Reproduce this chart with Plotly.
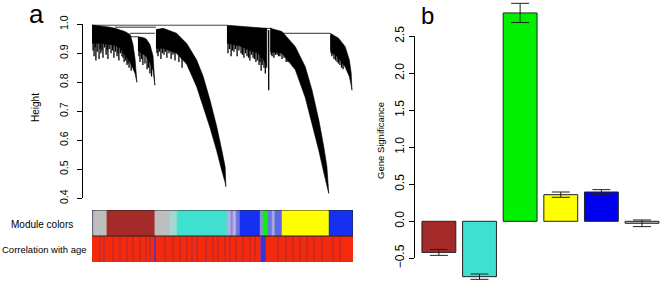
import numpy as np
import plotly.graph_objects as go

# ---------------- Panel a: dendrogram (leaf order 0-1000, height) ----------------
b1_x = [0, 31, 69, 88, 107, 126, 146, 157, 165, 172]
b1_top = [0.998, 0.995, 0.990, 0.986, 0.981, 0.975, 0.965, 0.93, 0.88, 0.80]
b1_low = [0.935, 0.935, 0.930, 0.928, 0.918, 0.895, 0.870, 0.845, 0.83, 0.80]
b1_spike_x = [4, 8, 12, 15, 20, 27, 31, 34, 38, 42, 48, 54, 58, 61, 66, 73, 79, 84, 90, 96,
              100, 103, 109, 115, 119, 123, 129, 134, 138, 142, 150]
b1_spike_low = [0.91, 0.89, 0.92, 0.875, 0.905, 0.88, 0.915, 0.90, 0.91, 0.885, 0.92, 0.895,
                0.91, 0.88, 0.915, 0.90, 0.91, 0.885, 0.905, 0.89, 0.90, 0.875, 0.90, 0.89,
                0.885, 0.87, 0.875, 0.86, 0.865, 0.85, 0.84]

b3_x = [176, 192, 207, 222, 234, 241]
b3_top = [0.957, 0.955, 0.95, 0.93, 0.89, 0.79]
b3_low = [0.91, 0.90, 0.89, 0.87, 0.84, 0.79]
b3_spike_x = [180, 184, 190, 195, 203, 211, 216, 222, 228]
b3_spike_low = [0.89, 0.87, 0.88, 0.86, 0.865, 0.845, 0.85, 0.83, 0.82]

b4_x = [245, 273, 324, 363, 401, 426, 452, 478, 497, 510, 513]
b4_top = [0.982, 0.986, 0.969, 0.934, 0.877, 0.82, 0.739, 0.647, 0.567, 0.509, 0.44]
b4_low = [0.917, 0.917, 0.90, 0.862, 0.785, 0.72, 0.644, 0.563, 0.496, 0.455, 0.44]
b4_spike_x = [249, 253, 258, 264, 270, 276, 281, 287, 295, 303, 310, 318, 333, 345]
b4_spike_low = [0.90, 0.89, 0.905, 0.88, 0.90, 0.895, 0.905, 0.885, 0.90, 0.88, 0.895, 0.875, 0.87, 0.85]

b5_x = [517, 567, 605, 636, 655, 667, 670]
b5_top = [0.997, 0.994, 0.991, 0.989, 0.987, 0.986, 0.985]
b5_low = [0.935, 0.925, 0.91, 0.90, 0.88, 0.86, 0.85]
b5_spike_x = [521, 527, 533, 538, 544, 550, 556, 563, 571, 576, 582, 588, 594, 600, 605, 611,
              617, 622, 628, 634, 640, 644, 648, 652, 659, 664, 677]
b5_spike_low = [0.90, 0.915, 0.89, 0.91, 0.905, 0.915, 0.89, 0.91, 0.90, 0.895, 0.885, 0.90,
                0.89, 0.885, 0.875, 0.895, 0.885, 0.88, 0.87, 0.875, 0.86, 0.87, 0.84, 0.86,
                0.85, 0.83, 0.773]

b7_x = [683, 728, 779, 817, 843, 869, 888, 900, 907]
b7_top = [0.986, 0.975, 0.923, 0.854, 0.773, 0.67, 0.578, 0.509, 0.417]
b7_low = [0.905, 0.90, 0.843, 0.748, 0.659, 0.565, 0.489, 0.44, 0.417]
b7_spike_x = [687, 690, 697, 703, 709, 715, 720, 728, 736, 744, 751]
b7_spike_low = [0.895, 0.89, 0.885, 0.895, 0.895, 0.89, 0.89, 0.88, 0.885, 0.87, 0.87]

b8_x = [913, 945, 970, 986, 993, 996]
b8_top = [0.969, 0.952, 0.923, 0.877, 0.832, 0.773]
b8_low = [0.911, 0.884, 0.853, 0.82, 0.79, 0.773]
b8_spike_x = [916, 919, 923, 927, 933, 939, 944, 950, 956, 962]
b8_spike_low = [0.90, 0.89, 0.895, 0.88, 0.875, 0.87, 0.865, 0.86, 0.85, 0.845]

merge_h = [0.997, 0.99, 0.969, 0.957, 0.969, 0.986]
merge_x0 = [0, 88, 146, 146, 728, 655]
merge_x1 = [517, 245, 241, 176, 913, 690]

# module colour row
mod_start = [0, 11, 57, 241, 299, 326, 517, 533, 540, 552, 567, 644, 655, 674, 690, 701, 728, 908]
mod_color = ["#AEB0C8", "#BEBEBE", "#A52A2A", "#BEBEBE", "#A0D8D0", "#40E0D0", "#AFAFDC",
             "#7C80E4", "#B4B4DC", "#6E70E8", "#1530F0", "#8C8CE0", "#10EE10", "#6E78E4",
             "#A4A4E0", "#5C68E8", "#FFFF00", "#1530F0"]
n_leaves = 1000

# correlation-with-age row
corr_base = "#F52A0C"
corr_x = [31, 46, 80, 107, 134, 157, 184, 207, 222, 241, 280, 310, 337, 364, 383, 402, 437, 464,
          483, 510, 529, 552, 579, 605, 624, 648, 657, 713, 743, 770, 797, 824, 850, 881, 923, 950]
corr_w = [5, 4, 5, 4, 6, 4, 5, 4, 5, 5, 4, 6, 5, 4, 5, 6, 4, 5, 4, 5, 6, 5, 4, 6, 5, 6, 17,
          4, 5, 6, 4, 5, 4, 5, 6, 5]
corr_color = ["#CC2A22"] * len(corr_x)
corr_color[9] = "#7030A0"
corr_color[25] = "#A0309A"
corr_color[26] = "#3A34D0"

# ---------------- Panel b: gene significance by module ----------------
modules = ["brown", "turquoise", "green", "yellow", "blue", "grey"]
gs_mean = [-0.42, -0.748, 2.815, 0.36, 0.396, -0.027]
gs_err = [0.04, 0.036, 0.13, 0.036, 0.032, 0.045]
bar_colors = ["#A52A2A", "#40E0D0", "#00F000", "#FFFF00", "#0000F0", "#BEBEBE"]

W, H = 662, 282
FONT = "Liberation Sans, Arial, sans-serif"

fig = go.Figure()

branches = [
    (b1_x, b1_top, b1_low, b1_spike_x, b1_spike_low),
    (b3_x, b3_top, b3_low, b3_spike_x, b3_spike_low),
    (b4_x, b4_top, b4_low, b4_spike_x, b4_spike_low),
    (b5_x, b5_top, b5_low, b5_spike_x, b5_spike_low),
    (b7_x, b7_top, b7_low, b7_spike_x, b7_spike_low),
    (b8_x, b8_top, b8_low, b8_spike_x, b8_spike_low),
]

# merge lines
mx, my = [], []
for h, a, b in zip(merge_h, merge_x0, merge_x1):
    mx += [a, b, None]
    my += [h, h, None]
fig.add_trace(go.Scatter(x=mx, y=my, mode="lines", line=dict(color="#333", width=1),
                         xaxis="x", yaxis="y", showlegend=False, hoverinfo="skip"))

for bx, bt, bl, sx, sl in branches:
    px = list(bx) + list(bx)[::-1]
    py = list(bt) + list(bl)[::-1]
    fig.add_trace(go.Scatter(x=px, y=py, mode="lines", fill="toself", fillcolor="black",
                             line=dict(color="black", width=0.6), xaxis="x", yaxis="y",
                             showlegend=False, hoverinfo="skip"))
    sxs, sys = [], []
    for xv, lv in zip(sx, sl):
        start = float(np.interp(xv, bx, bt)) - 0.005
        sxs += [xv, xv, None]
        sys += [start, lv, None]
    fig.add_trace(go.Scatter(x=sxs, y=sys, mode="lines", line=dict(color="#000", width=1.3),
                             xaxis="x", yaxis="y", showlegend=False, hoverinfo="skip"))

# module colour row
mod_end = mod_start[1:] + [n_leaves]
mod_w = [e - s for s, e in zip(mod_start, mod_end)]
fig.add_trace(go.Bar(orientation="h", y=[1.5] * len(mod_start), x=mod_w, base=mod_start,
                     width=1, marker=dict(color=mod_color, line=dict(color=mod_color, width=0.5)),
                     xaxis="x2", yaxis="y2", showlegend=False, hoverinfo="skip"))
# correlation row
fig.add_trace(go.Bar(orientation="h", y=[0.5], x=[n_leaves], base=[0], width=1,
                     marker=dict(color=corr_base, line=dict(width=0)),
                     xaxis="x2", yaxis="y2", showlegend=False, hoverinfo="skip"))
fig.add_trace(go.Bar(orientation="h", y=[0.5] * len(corr_x), x=corr_w,
                     base=[c - w / 2 for c, w in zip(corr_x, corr_w)], width=1,
                     marker=dict(color=corr_color, line=dict(width=0)),
                     xaxis="x2", yaxis="y2", showlegend=False, hoverinfo="skip"))

# bar chart
fig.add_trace(go.Bar(x=modules, y=gs_mean, marker=dict(color=bar_colors, line=dict(color="#222", width=1)),
                     error_y=dict(type="data", array=gs_err, visible=True, color="#222",
                                  thickness=1, width=9),
                     xaxis="x3", yaxis="y3", showlegend=False, hoverinfo="skip"))
fig.add_trace(go.Scatter(x=[None], y=[None], xaxis="x4", yaxis="y4", showlegend=False,
                         hoverinfo="skip"))

xa_dom = [92 / W, 353 / W]
xb_dom = [415.2 / W, 1.0]
fig.update_layout(
    width=W, height=H, margin=dict(l=0, r=0, t=0, b=0, pad=0), autosize=False,
    paper_bgcolor="white", plot_bgcolor="rgba(0,0,0,0)",
    font=dict(family=FONT, color="black"),
    barmode="overlay", bargap=1 - 1 / 1.2,
    xaxis=dict(domain=xa_dom, range=[0, n_leaves], visible=False, automargin=False),
    yaxis=dict(domain=[1 - 198.3 / H, 1 - 24.3 / H], range=[0.4, 1.0], anchor="free",
               position=82 / W, showline=True, linecolor="black", linewidth=1, automargin=False,
               ticks="outside", ticklen=5, tickcolor="black", tickvals=[0.4, 0.5, 0.6, 0.7, 0.8, 0.9, 1.0],
               tickformat=".1f", tickangle=-90, tickfont=dict(size=10.5), ticklabelstandoff=5,
               showgrid=False, zeroline=False),
    xaxis2=dict(domain=xa_dom, range=[0, n_leaves], visible=False, anchor="y2", automargin=False),
    yaxis2=dict(domain=[1 - 262 / H, 1 - 210 / H], range=[0, 2], visible=False, anchor="x2", automargin=False),
    xaxis3=dict(domain=xb_dom, range=[-0.583, 5.492], visible=False, anchor="y3", automargin=False),
    yaxis3=dict(domain=[0, 1], range=[-0.82, 2.99], visible=False, anchor="x3", automargin=False),
    xaxis4=dict(domain=xb_dom, range=[0, 1], visible=False, anchor="y4", automargin=False),
    yaxis4=dict(domain=[1 - 258.3 / H, 1 - 36.3 / H], range=[-0.5, 2.5], anchor="x4", automargin=False,
                showline=True, linecolor="black", linewidth=1, ticks="outside", ticklen=5,
                tickcolor="black", tickvals=[-0.5, 0, 0.5, 1.0, 1.5, 2.0, 2.5], tickformat=".1f",
                tickangle=-90, tickfont=dict(size=12), showgrid=False, zeroline=False),
    shapes=[dict(type="rect", xref="x2", yref="y2", x0=0, x1=n_leaves, y0=1, y1=2,
                 line=dict(color="#222", width=1))],
)

ann = [
    dict(text="a", x=36 / W, y=1 - 14 / H, size=26),
    dict(text="b", x=428 / W, y=1 - 15 / H, size=24),
    dict(text="Module colors", x=42 / W, y=1 - 224 / H, size=10),
    dict(text="Correlation with age", x=44 / W, y=1 - 250 / H, size=9.5),
]
for a in ann:
    fig.add_annotation(text=a["text"], x=a["x"], y=a["y"], xref="paper", yref="paper",
                       showarrow=False, xanchor="center", yanchor="middle",
                       font=dict(size=a["size"], family=FONT, color="black"))
fig.add_annotation(text="Height", x=35 / W, y=1 - 108 / H, xref="paper", yref="paper",
                   showarrow=False, textangle=-90, xanchor="center", yanchor="middle",
                   font=dict(size=10, family=FONT))
fig.add_annotation(text="Gene Significance", x=380 / W, y=1 - 141 / H, xref="paper", yref="paper",
                   showarrow=False, textangle=-90, xanchor="center", yanchor="middle",
                   font=dict(size=9.5, family=FONT))

fig.write_html("out.html", config={"displayModeBar": False},
               post_script="document.body.style.margin='0';")
